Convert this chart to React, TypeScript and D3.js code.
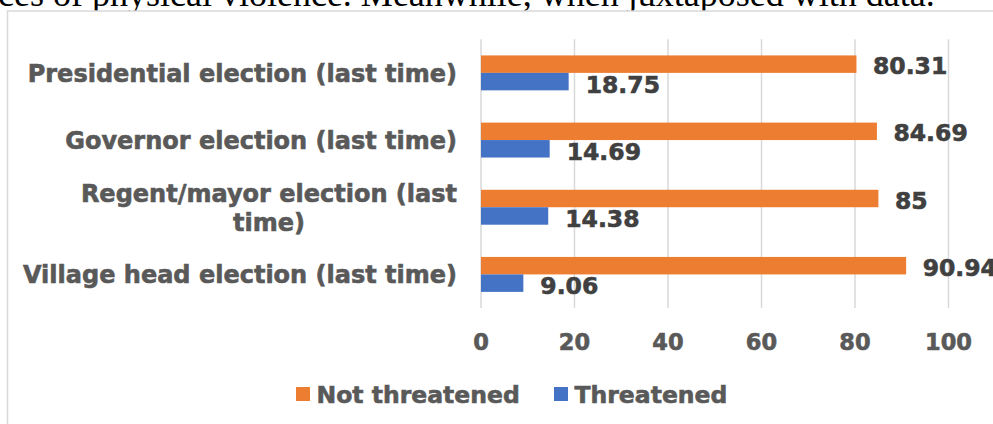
import * as d3 from "d3";
import { useEffect, useRef } from "react";

const categories = [
  "Presidential election (last time)",
  "Governor election (last time)",
  "Regent/mayor election (last time)",
  "Village head election (last time)",
];
const categoryLines = [
  ["Presidential election (last time)"],
  ["Governor election (last time)"],
  ["Regent/mayor election (last", "time)"],
  ["Village head election (last time)"],
];
const notThreatened = [80.31, 84.69, 85, 90.94];
const threatened = [18.75, 14.69, 14.38, 9.06];
const seriesNames = ["Not threatened", "Threatened"];
const xTicks = [0, 20, 40, 60, 80, 100];

const ORANGE = "#ED7D31";
const BLUE = "#4472C4";
const FONT = "'DejaVu Sans', Verdana, sans-serif";

export default function App() {
  const ref = useRef<SVGSVGElement>(null);

  useEffect(() => {
    const svg = d3.select(ref.current);
    svg.selectAll("*").remove();

    const width = 993,
      height = 424;

    // text of the document above the chart (cut off)
    svg.append("text")
      .attr("x", -2)
      .attr("y", 6)
      .attr("font-family", "'Liberation Serif', 'Times New Roman', serif")
      .attr("font-size", 36)
      .attr("fill", "#000")
      .text("ces of physical violence. Meanwhile, when juxtaposed with data.");

    // chart frame
    svg.append("rect")
      .attr("x", 7.5)
      .attr("y", 11)
      .attr("width", width)
      .attr("height", height)
      .attr("fill", "#fff")
      .attr("stroke", "#d9d9d9")
      .attr("stroke-width", 1.5);

    const x = d3.scaleLinear().domain([0, 100]).range([481, 948.5]);
    const y = d3
      .scaleBand()
      .domain(categories)
      .range([39.3, 308])
      .paddingInner(0.48)
      .paddingOuter(0.24);
    const bh = y.bandwidth() / 2;

    // gridlines
    svg.append("g")
      .selectAll("line")
      .data(xTicks)
      .join("line")
      .attr("x1", (d) => x(d))
      .attr("x2", (d) => x(d))
      .attr("y1", 39.3)
      .attr("y2", 308)
      .attr("stroke", "#d9d9d9")
      .attr("stroke-width", 1.5);

    const bold = (g: any, size: number, fill: string) =>
      g.attr("font-family", FONT)
        .attr("font-weight", "bold")
        .attr("font-size", size)
        .attr("fill", fill)
        .attr("stroke", fill)
        .attr("stroke-width", 0.6);

    // tick labels
    bold(svg.append("g"), 22.5, "#595959")
      .selectAll("text")
      .data(xTicks)
      .join("text")
      .attr("x", (d: number) => x(d))
      .attr("y", 350)
      .attr("text-anchor", "middle")
      .text((d: number) => d);

    // bars
    const bars = svg.append("g");
    bars.selectAll("rect.nt")
      .data(notThreatened)
      .join("rect")
      .attr("class", "nt")
      .attr("x", x(0))
      .attr("y", (d, i) => y(categories[i])!)
      .attr("width", (d) => x(d) - x(0))
      .attr("height", bh)
      .attr("fill", ORANGE);
    bars.selectAll("rect.t")
      .data(threatened)
      .join("rect")
      .attr("class", "t")
      .attr("x", x(0))
      .attr("y", (d, i) => y(categories[i])! + bh)
      .attr("width", (d) => x(d) - x(0))
      .attr("height", bh)
      .attr("fill", BLUE);

    // value labels
    const labels = bold(svg.append("g"), 23.5, "#404040");
    labels.selectAll("text.nt")
      .data(notThreatened)
      .join("text")
      .attr("class", "nt")
      .attr("x", (d: number) => x(d) + 16.5)
      .attr("y", (d: number, i: number) => y(categories[i])! + bh / 2 + 10)
      .text((d: number) => d);
    labels.selectAll("text.t")
      .data(threatened)
      .join("text")
      .attr("class", "t")
      .attr("x", (d: number) => x(d) + 17)
      .attr("y", (d: number, i: number) => y(categories[i])! + bh * 1.5 + 11)
      .text((d: number) => d);

    // category labels
    const cats = bold(svg.append("g"), 24, "#595959");
    categories.forEach((c, i) => {
      const lines = categoryLines[i];
      const cy = y(c)! + y.bandwidth() / 2;
      const lh = 29;
      const t = cats.append("text").attr("text-anchor", "middle");
      const spans = lines.map((ln, j) =>
        t.append("tspan")
          .attr("y", cy + 9 + (j - (lines.length - 1) / 2) * lh)
          .text(ln)
      );
      const w = d3.max(spans, (s: any) => (s.node() as SVGTSPanElement).getComputedTextLength())!;
      spans.forEach((s: any) => s.attr("x", 457 - w / 2));
    });

    // legend
    const legend = bold(svg.append("g"), 23.5, "#595959");
    const legendX = [296, 554];
    [ORANGE, BLUE].forEach((col, i) => {
      legend.append("rect")
        .attr("x", legendX[i])
        .attr("y", 387)
        .attr("width", 14)
        .attr("height", 14)
        .attr("fill", col)
        .attr("stroke", "none");
      legend.append("text")
        .attr("x", legendX[i] + 20.5)
        .attr("y", 402.5)
        .text(seriesNames[i]);
    });
  }, []);

  return (
    <svg
      ref={ref}
      width={993}
      height={424}
      style={{ position: "absolute", left: 0, top: 0, background: "#fff" }}
    ></svg>
  );
}
